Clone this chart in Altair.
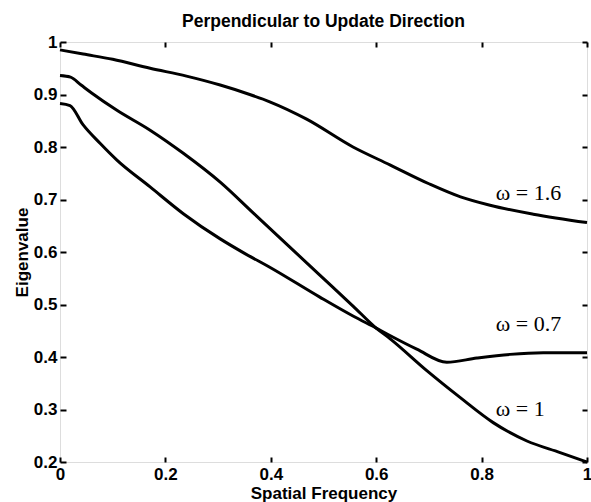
import altair as alt
import pandas as pd

# omega = 1.6
x_w16 = [0, 0.044, 0.10, 0.171, 0.24, 0.304, 0.36, 0.398, 0.468, 0.556, 0.626, 0.70, 0.76, 0.816, 0.898, 1.0]
y_w16 = [0.985, 0.977, 0.967, 0.950, 0.935, 0.918, 0.900, 0.886, 0.853, 0.800, 0.766, 0.730, 0.705, 0.689, 0.672, 0.656]

# omega = 1
x_w1 = [0, 0.02, 0.04, 0.06, 0.108, 0.171, 0.234, 0.304, 0.367, 0.43, 0.493, 0.556, 0.60, 0.626, 0.696, 0.759, 0.822, 0.886, 0.949, 1.0]
y_w1 = [0.936, 0.933, 0.918, 0.903, 0.870, 0.832, 0.788, 0.733, 0.674, 0.615, 0.556, 0.497, 0.455, 0.435, 0.374, 0.323, 0.275, 0.240, 0.218, 0.200]

# omega = 0.7
x_w07 = [0, 0.019, 0.044, 0.076, 0.108, 0.171, 0.234, 0.304, 0.351, 0.398, 0.493, 0.556, 0.60, 0.626, 0.677, 0.734, 0.791, 0.854, 0.917, 1.0]
y_w07 = [0.883, 0.879, 0.842, 0.807, 0.775, 0.724, 0.673, 0.625, 0.597, 0.571, 0.514, 0.478, 0.455, 0.441, 0.415, 0.390, 0.398, 0.405, 0.408, 0.408]

series_names = ["w16", "w1", "w07"]

label_text = ["ω = 1.6", "ω = 0.7", "ω = 1"]
label_x = [0.827, 0.827, 0.827]
label_y = [0.6985, 0.449, 0.288]

x_ticks = [0, 0.2, 0.4, 0.6, 0.8, 1.0]
y_ticks = [0.2, 0.3, 0.4, 0.5, 0.6, 0.7, 0.8, 0.9, 1.0]

rows = []
for name, xs, ys in zip(series_names, [x_w16, x_w1, x_w07], [y_w16, y_w1, y_w07]):
    for a, b in zip(xs, ys):
        rows.append({"series": name, "x": a, "y": b})
df = pd.DataFrame(rows)
lab_df = pd.DataFrame({"t": label_text, "x": label_x, "y": label_y})

FONT = "Liberation Sans"
xscale = alt.Scale(domain=[0, 1], nice=False, zero=False)
yscale = alt.Scale(domain=[0.2, 1], nice=False, zero=False)

common_axis = dict(
    domain=False, grid=False, tickColor="black", tickWidth=2,
    labelFont=FONT, labelFontSize=17, labelFontWeight="bold", labelColor="black",
    titleFont=FONT, titleFontSize=17, titleFontWeight="bold", titleColor="black",
    format=".1~f",
)

bottom_axis = alt.Axis(orient="bottom", values=x_ticks, offset=-5, tickSize=5,
                       labelPadding=4, titlePadding=3, labelFlush=False,
                       labelOverlap=False, **common_axis)
left_axis = alt.Axis(orient="left", values=y_ticks, offset=-6, tickSize=6,
                     labelPadding=3, titlePadding=2, labelFlush=False,
                     labelOverlap=False, **common_axis)
top_axis = alt.Axis(orient="top", values=x_ticks, offset=-5, tickSize=5,
                    labels=False, domain=False, grid=False, tickColor="black", tickWidth=2)
right_axis = alt.Axis(orient="right", values=y_ticks, offset=-5, tickSize=5,
                      labels=False, domain=False, grid=False, tickColor="black", tickWidth=2)

lines = alt.Chart(df).mark_line(color="black", strokeWidth=3, interpolate="monotone").encode(
    x=alt.X("x:Q", scale=xscale, axis=bottom_axis, title="Spatial Frequency"),
    y=alt.Y("y:Q", scale=yscale, axis=left_axis, title="Eigenvalue"),
    detail="series:N",
    order="x:Q",
)

labels = alt.Chart(lab_df).mark_text(
    font="Liberation Serif", fontSize=22, color="black", align="left", baseline="alphabetic"
).encode(
    x=alt.X("x:Q", scale=xscale, axis=top_axis, title=None),
    y=alt.Y("y:Q", scale=yscale, axis=right_axis, title=None),
    text="t:N",
)

chart = alt.layer(lines, labels).resolve_axis(x="independent", y="independent").properties(
    width=527, height=420,
    title=alt.TitleParams("Perpendicular to Update Direction", font=FONT, fontSize=17.5,
                          fontWeight="bold", color="black", anchor="middle",
                          baseline="alphabetic", offset=-11.5),
    autosize=alt.AutoSizeParams(type="none"),
    padding={"left": 60, "top": 42, "right": 4, "bottom": 40},
).configure_view(stroke="black", strokeWidth=3).configure(background="white")

chart.save("out.html", embed_options={"renderer": "svg", "actions": False})
